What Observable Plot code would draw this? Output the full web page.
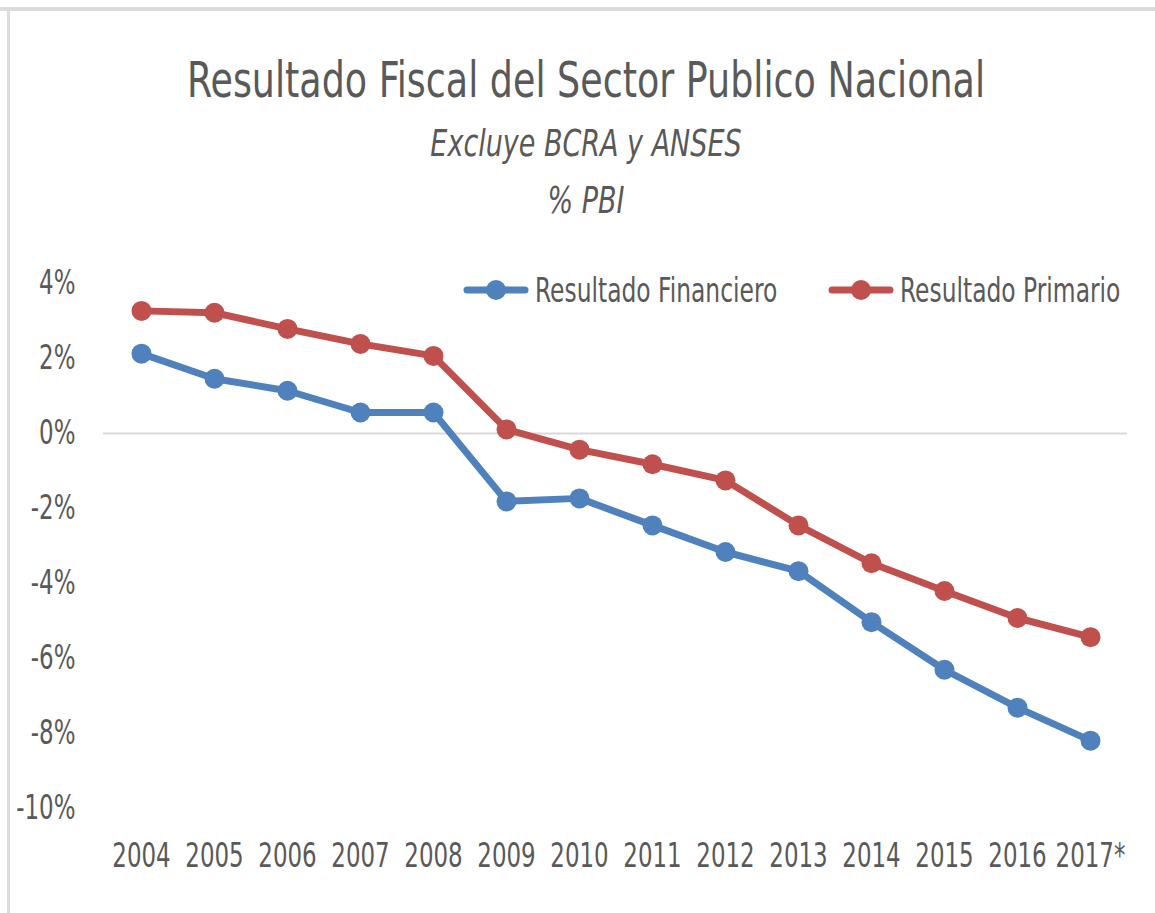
<!DOCTYPE html>
<html>
<head>
<meta charset="utf-8">
<script src="https://cdn.jsdelivr.net/npm/d3@7"></script>
<script src="https://cdn.jsdelivr.net/npm/@observablehq/plot@0.6"></script>
<style>
  html, body { margin: 0; padding: 0; background: #fff; }
  #page { position: relative; width: 1155px; height: 913px; overflow: hidden; background: #fff;
          font-family: "DejaVu Sans Condensed", "Liberation Sans", sans-serif; color: #595959; }
  #topbar { position: absolute; left: 0; top: 7px; width: 1155px; height: 4px; background: #dcdcdc; }
  #leftbar { position: absolute; left: 7px; top: 7px; width: 3px; height: 906px; background: #dcdcdc; }
  .t { position: absolute; left: 0; width: 1172px; text-align: center; white-space: nowrap;
       transform-origin: center center; }
  #title { top: 55px; font-size: 40.5px; transform: scaleY(1.25); }
  #sub1 { top: 125px; font-size: 30px; font-style: italic; transform: scaleY(1.25); }
  #sub2 { top: 182px; font-size: 30px; font-style: italic; transform: scaleY(1.25); }
  #chart { position: absolute; left: 0; top: 250px; }
  .leg { position: absolute; top: 275px; display: flex; align-items: center; font-size: 26px; white-space: nowrap; }
  .leg span { display: inline-block; transform: scaleY(1.3); transform-origin: center center; }
  .leg svg { margin-right: 6px; }
</style>
</head>
<body>
<div id="page">
  <div id="topbar"></div>
  <div id="leftbar"></div>
  <div class="t" id="title">Resultado Fiscal del Sector Publico Nacional</div>
  <div class="t" id="sub1">Excluye BCRA y ANSES</div>
  <div class="t" id="sub2">% PBI</div>
  <div id="chart"></div>
  <div class="leg" id="leg1" style="left:463px"></div>
  <div class="leg" id="leg2" style="left:828px"></div>
</div>
<script>
const years = ["2004","2005","2006","2007","2008","2009","2010","2011","2012","2013","2014","2015","2016","2017*"];
const financiero = [2.13, 1.46, 1.14, 0.56, 0.56, -1.81, -1.73, -2.45, -3.16, -3.67, -5.03, -6.30, -7.31, -8.19];
const primario   = [3.27, 3.22, 2.79, 2.39, 2.07, 0.11, -0.43, -0.82, -1.25, -2.45, -3.46, -4.20, -4.92, -5.43];
const seriesNames = ["Resultado Financiero", "Resultado Primario"];
const seriesColors = ["#4F81BD", "#C0504D"];
const yTicks = [4, 2, 0, -2, -4, -6, -8, -10];

const data = [
  ...years.map((y, i) => ({year: y, value: financiero[i], series: seriesNames[0]})),
  ...years.map((y, i) => ({year: y, value: primario[i], series: seriesNames[1]}))
];

const font = '"DejaVu Sans Condensed", "Liberation Sans", sans-serif';

const chart = Plot.plot({
  width: 1155,
  height: 630,
  marginTop: 33,
  marginBottom: 72,
  marginLeft: 103,
  marginRight: 28,
  style: {fontFamily: font, fontSize: "25.5px", color: "#595959", background: "transparent"},
  x: {type: "point", domain: years, padding: 0.5, label: null},
  y: {domain: [-10, 4], label: null},
  color: {domain: seriesNames, range: seriesColors},
  marks: [
    Plot.ruleY([0], {stroke: "#d9d9d9", strokeWidth: 2}),
    Plot.axisY({ticks: yTicks, tickSize: 0, tickPadding: 28, tickFormat: d => d + "%", label: null, fill: "#595959"}),
    Plot.axisX({tickSize: 0, tickPadding: 35, label: null, fill: "#595959"}),
    Plot.line(data, {x: "year", y: "value", z: "series", stroke: "series", strokeWidth: 7, strokeLinejoin: "round", strokeLinecap: "round"}),
    Plot.dot(data, {x: "year", y: "value", fill: "series", r: 10})
  ]
});

// stretch tick labels vertically, like the reference's tall narrow lettering
chart.querySelectorAll('g[aria-label$="tick label"] text').forEach(t => {
  let tr = t.getAttribute("transform") || "";
  const xa = t.getAttribute("x"), ya = t.getAttribute("y");
  const xn = xa !== null && !/em/.test(xa) ? parseFloat(xa) : null;
  const yn = ya !== null && !/em/.test(ya) ? parseFloat(ya) : null;
  if (xn !== null || yn !== null) {
    tr += ` translate(${xn || 0},${yn || 0})`;
    if (xn !== null) t.removeAttribute("x");
    if (yn !== null) t.removeAttribute("y");
  }
  t.setAttribute("transform", tr + " scale(1,1.3)");
});

document.getElementById("chart").appendChild(chart);

function legendItem(el, name, color) {
  el.innerHTML = `<svg width="66" height="26"><line x1="4" y1="13" x2="62" y2="13" stroke="${color}" stroke-width="7" stroke-linecap="round"/><circle cx="33" cy="13" r="10" fill="${color}"/></svg><span>${name}</span>`;
}
legendItem(document.getElementById("leg1"), seriesNames[0], seriesColors[0]);
legendItem(document.getElementById("leg2"), seriesNames[1], seriesColors[1]);
</script>
</body>
</html>
